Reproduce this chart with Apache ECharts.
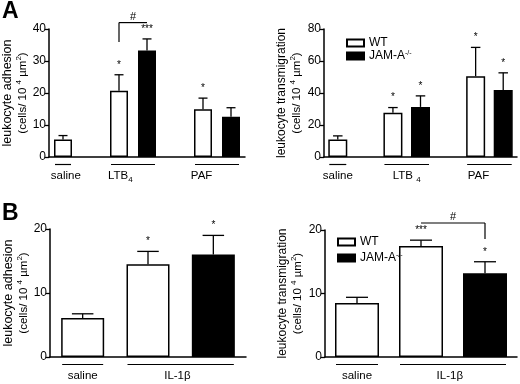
<!DOCTYPE html>
<html>
<head>
<meta charset="utf-8">
<script src="https://cdn.jsdelivr.net/npm/echarts@6/dist/echarts.min.js"></script>
<style>
html, body { margin: 0; padding: 0; background: #fff; }
#chart { width: 520px; height: 384px; }
</style>
</head>
<body>
<div id="chart"></div>
<script>
const FONT = '"Liberation Sans", Arial, Helvetica, sans-serif'

// panel A: slots saline | gap | LTB4 WT | LTB4 JAM-A | gap | PAF WT | PAF JAM-A
const slotsA = ['saline', 'gap1', 'LTB4 WT', 'LTB4 JAM-A', 'gap2', 'PAF WT', 'PAF JAM-A']
const adhA_wt = [5.5, null, 20.7, null, null, 14.9, null]
const adhA_ko = [null, null, null, 33.3, null, null, 12.6]
const adhA_err = [6.7, null, 25.7, 36.9, null, 18.4, 15.4]
const adhA_stars = ['', '', '*', '***', '', '*', '']

const tmA_wt = [10.9, null, 27.6, null, null, 50.5, null]
const tmA_ko = [null, null, null, 31.3, null, null, 41.8]
const tmA_err = [13.2, null, 30.9, 38.2, null, 68.5, 52.6]
const tmA_stars = ['', '', '*', '*', '', '*', '*']

// panel B: saline | IL-1b WT | IL-1b JAM-A
const slotsB = ['saline', 'IL-1β WT', 'IL-1β JAM-A']
const adhB_wt = [6.1, 14.5, null]
const adhB_ko = [null, null, 16.0]
const adhB_err = [6.75, 16.5, 19.0]
const adhB_stars = ['', '*', '*']

const tmB_wt = [8.5, 17.5, null]
const tmB_ko = [null, null, 13.2]
const tmB_err = [9.4, 18.4, 15.0]
const tmB_stars = ['', '***', '*']

// x groups under the axis: [first slot, last slot, slot the label sits under]
const groupsA_adh = [[0, 0, 0.1], [2, 3, 2.05], [5, 6, 4.95]]
const groupsA_tm = [[0, 0, 0], [2, 3, 2.5], [5, 6, 5.1]]
const groupsB = [[0, 0, 0], [1, 2, 1.45]]
const labelsA_adh = ['saline', 'LTB{sub|4}', 'PAF']
const labelsA_tm = ['saline', 'LTB {sub|4}', 'PAF']
const labelsB = ['saline', 'IL-1β']

// # comparisons: [from slot, to slot, bracket value, leg end value, leg side]
const sigA_adh = [[2, 3, 42, 35.9, 'from']]
const sigB_tm = [[1, 2, 21.1, 18.6, 'to']]

const nameAdh = '{t|leukocyte adhesion}\n{u|(cells/ 10 }{s|4}{u| µm}{s|2}{u|)}'
const nameTm = '{t|leukocyte transmigration}\n{u|(cells/ 10 }{s|4}{u| µm}{s|2}{u|)}'

const panels = [
  { grid: { left: 49, top: 29, width: 196, height: 128 }, slots: slotsA, wt: adhA_wt, ko: adhA_ko, err: adhA_err,
    stars: adhA_stars, groups: groupsA_adh, labels: labelsA_adh, sig: sigA_adh, max: 40, step: 10, barW: 18,
    name: nameAdh, nameGap: 18, titleSize: 12.5 },
  { grid: { left: 324, top: 29, width: 193, height: 128 }, slots: slotsA, wt: tmA_wt, ko: tmA_ko, err: tmA_err,
    stars: tmA_stars, groups: groupsA_tm, labels: labelsA_tm, sig: [], max: 80, step: 20, barW: 19,
    name: nameTm, nameGap: 20, titleSize: 12 },
  { grid: { left: 50, top: 229, width: 196, height: 128 }, slots: slotsB, wt: adhB_wt, ko: adhB_ko, err: adhB_err,
    stars: adhB_stars, groups: groupsB, labels: labelsB, sig: [], max: 20, step: 10, barW: 43,
    name: nameAdh, nameGap: 18, titleSize: 12.5 },
  { grid: { left: 325, top: 230, width: 192, height: 127 }, slots: slotsB, wt: tmB_wt, ko: tmB_ko, err: tmB_err,
    stars: tmB_stars, groups: groupsB, labels: labelsB, sig: sigB_tm, max: 20, step: 10, barW: 44,
    name: nameTm, nameGap: 20, titleSize: 12 }
]

const line = (x1, y1, x2, y2, w) => ({
  type: 'line', shape: { x1, y1, x2, y2 }, style: { stroke: '#000', lineWidth: w || 1.3 }
})

function errSeries(k, p) {
  const data = []
  p.err.forEach((e, i) => {
    if (e != null) data.push([i, e, p.wt[i] != null ? p.wt[i] : p.ko[i]])
  })
  return {
    type: 'custom', xAxisIndex: k, yAxisIndex: k, silent: true, z: 3,
    encode: { x: 0, y: 1 },
    data,
    renderItem(params, api) {
      const i = api.value(0)
      const top = api.coord([i, api.value(1)])
      const base = api.coord([i, api.value(2)])
      const cap = p.barW / 4
      const children = [
        line(top[0], base[1], top[0], top[1]),
        line(top[0] - cap, top[1], top[0] + cap, top[1])
      ]
      if (p.stars[i]) {
        children.push({
          type: 'text', x: top[0], y: top[1] - 10,
          style: { text: p.stars[i], fill: '#000', fontSize: 10, fontFamily: FONT, align: 'center', verticalAlign: 'middle' }
        })
      }
      return { type: 'group', children }
    }
  }
}

function groupSeries(k, p) {
  return {
    type: 'custom', xAxisIndex: k, yAxisIndex: k, silent: true,
    data: p.groups.map(g => [g[0], 0]),
    renderItem(params, api) {
      const g = p.groups[params.dataIndex]
      const band = api.size([1, 0])[0]
      const o = api.coord([0, 0])
      const xAt = s => o[0] + s * band
      const half = p.barW / 2 - 1
      const y = o[1] + 7.5
      return {
        type: 'group',
        children: [
          line(xAt(g[0]) - half, y, xAt(g[1]) + half, y, 1.2),
          {
            type: 'text', x: xAt(g[2]), y: y + 11,
            style: {
              text: p.labels[params.dataIndex], fill: '#000', fontSize: 11.5, fontFamily: FONT,
              align: 'center', verticalAlign: 'middle', lineHeight: 16,
              rich: { sub: { fontSize: 8, fontFamily: FONT, fill: '#000', verticalAlign: 'bottom', lineHeight: 8 } }
            }
          }
        ]
      }
    }
  }
}

function sigSeries(k, p) {
  return {
    type: 'custom', xAxisIndex: k, yAxisIndex: k, silent: true,
    data: p.sig.map(s => [s[0], s[2]]),
    renderItem(params, api) {
      const s = p.sig[params.dataIndex]
      const a = api.coord([s[0], s[2]])
      const b = api.coord([s[1], s[2]])
      const legX = s[4] === 'from' ? a[0] : b[0]
      const legEnd = api.coord([s[0], s[3]])[1]
      return {
        type: 'group',
        children: [
          line(a[0], a[1], b[0], b[1], 1.2),
          line(legX, a[1], legX, legEnd, 1.2),
          {
            type: 'text', x: (a[0] + b[0]) / 2, y: a[1] - 6,
            style: { text: '#', fill: '#000', fontSize: 11, fontFamily: FONT, align: 'center', verticalAlign: 'middle' }
          }
        ]
      }
    }
  }
}

const grids = [], xAxes = [], yAxes = [], series = []
panels.forEach((p, k) => {
  grids.push(p.grid)
  xAxes.push({
    type: 'category', gridIndex: k, data: p.slots, boundaryGap: true,
    axisLine: { lineStyle: { color: '#000', width: 1.5 } },
    axisTick: { show: false },
    axisLabel: { show: false }
  })
  yAxes.push({
    type: 'value', gridIndex: k, min: 0, max: p.max, interval: p.step,
    name: p.name, nameLocation: 'middle', nameGap: p.nameGap,
    nameTextStyle: {
      color: '#000',
      rich: {
        t: { fontSize: p.titleSize, fontFamily: FONT, color: '#000', lineHeight: 15 },
        u: { fontSize: 11.5, fontFamily: FONT, color: '#000', lineHeight: 15 },
        s: { fontSize: 8, fontFamily: FONT, color: '#000', lineHeight: 9, verticalAlign: 'top' }
      }
    },
    axisLine: { show: true, lineStyle: { color: '#000', width: 1.5 } },
    axisTick: { show: true, length: 4, lineStyle: { color: '#000', width: 1.3 } },
    axisLabel: { color: '#000', fontSize: 12, fontFamily: FONT, margin: 3 },
    splitLine: { show: false }
  })
  series.push({
    type: 'bar', name: 'WT', xAxisIndex: k, yAxisIndex: k, data: p.wt,
    barWidth: p.barW, barGap: '-100%', silent: true,
    itemStyle: { color: '#fff', borderColor: '#000', borderWidth: 1.5 }
  })
  series.push({
    type: 'bar', name: 'JAM-A', xAxisIndex: k, yAxisIndex: k, data: p.ko,
    barWidth: p.barW, barGap: '-100%', silent: true,
    itemStyle: { color: '#000', borderColor: '#000', borderWidth: 1.5 }
  })
  series.push(errSeries(k, p))
  series.push(groupSeries(k, p))
  if (p.sig.length) series.push(sigSeries(k, p))
})

const legendBase = {
  orient: 'vertical', data: ['WT', 'JAM-A'], icon: 'rect',
  itemWidth: 17, itemHeight: 7, selectedMode: false,
  formatter: n => n === 'WT' ? 'WT' : 'JAM-A{s|-/-}',
  textStyle: {
    color: '#000', fontSize: 12, fontFamily: FONT,
    rich: { s: { fontSize: 7, fontFamily: FONT, color: '#000', verticalAlign: 'top', lineHeight: 8 } }
  }
}

const chart = echarts.init(document.getElementById('chart'))
chart.setOption({
  animation: false,
  backgroundColor: '#fff',
  grid: grids,
  xAxis: xAxes,
  yAxis: yAxes,
  legend: [
    Object.assign({}, legendBase, { left: 341, top: 32, itemGap: 1 }),
    Object.assign({}, legendBase, { left: 332, top: 231, itemGap: 4 })
  ],
  graphic: [
    { type: 'text', left: 2, top: 0, style: { text: 'A', fontSize: 23, fontWeight: 'bold', fontFamily: FONT, fill: '#000' } },
    { type: 'text', left: 2, top: 202, style: { text: 'B', fontSize: 23, fontWeight: 'bold', fontFamily: FONT, fill: '#000' } }
  ],
  series
})
</script>
</body>
</html>
